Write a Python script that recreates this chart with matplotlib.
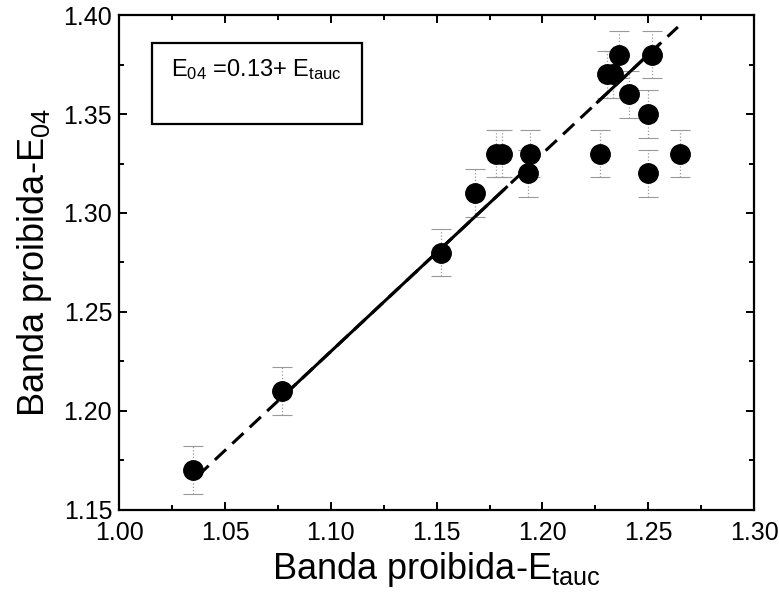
import numpy as np
import matplotlib
matplotlib.use("Agg")
import matplotlib.pyplot as plt
from matplotlib.ticker import MultipleLocator, FormatStrFormatter

plt.rcParams['font.family'] = ['Liberation Sans', 'DejaVu Sans']
plt.rcParams['mathtext.fontset'] = 'custom'
plt.rcParams['mathtext.rm'] = 'Liberation Sans'
plt.rcParams['mathtext.it'] = 'Liberation Sans'

# data
e_tauc = [1.035, 1.077, 1.152, 1.168, 1.178, 1.181, 1.194, 1.193, 1.227,
          1.2305, 1.2335, 1.236, 1.241, 1.250, 1.250, 1.252, 1.265]
e_04 = [1.17, 1.21, 1.28, 1.31, 1.33, 1.33, 1.33, 1.32, 1.33,
        1.37, 1.37, 1.38, 1.36, 1.35, 1.32, 1.38, 1.33]
err = 0.012

# fit E04 = 0.13 + Etauc
intercept = 0.13
slope = 1.0
fit_range = [1.037, 1.264]
solid_parts = [[1.081, 1.183], [1.226, 1.255]]

fig = plt.figure(figsize=(7.79, 6.04), dpi=100)
ax = fig.add_axes([0.153, 0.156, 0.815, 0.819])

ax.errorbar(e_tauc, e_04, yerr=err, fmt='none', ecolor='#999999',
            elinewidth=0.9, capsize=7, capthick=0.8, zorder=2)
for bar in ax.collections:
    bar.set_linestyle(':')
ax.plot(e_tauc, e_04, 'o', color='black', markersize=14, zorder=3)

xf = np.array(fit_range)
ax.plot(xf, intercept + slope * xf, color='black', lw=2.2,
        dashes=(5, 2.8), zorder=4)
for a, b in solid_parts:
    xs = np.array([a, b])
    ax.plot(xs, intercept + slope * xs, color='black', lw=2.2, zorder=4)

ax.set_xlim(1.00, 1.30)
ax.set_ylim(1.15, 1.40)
ax.xaxis.set_major_locator(MultipleLocator(0.05))
ax.xaxis.set_minor_locator(MultipleLocator(0.025))
ax.yaxis.set_major_locator(MultipleLocator(0.05))
ax.yaxis.set_minor_locator(MultipleLocator(0.025))
ax.xaxis.set_major_formatter(FormatStrFormatter('%.2f'))
ax.yaxis.set_major_formatter(FormatStrFormatter('%.2f'))
ax.tick_params(which='both', direction='in', top=True, right=True,
               width=1.4, labelsize=18)
ax.tick_params(which='major', length=6)
ax.tick_params(which='minor', length=3.5)
ax.tick_params(axis='x', pad=8)
ax.tick_params(axis='y', pad=5)
for s in ax.spines.values():
    s.set_linewidth(1.6)

ax.set_xlabel('Banda proibida-E$_{\\rm tauc}$', fontsize=26, labelpad=4)
ax.set_ylabel('Banda proibida-E$_{\\rm 04}$', fontsize=26, labelpad=7)

ax.text(0.082, 0.889, 'E$_{\\rm 04}$ =0.13+ E$_{\\rm tauc}$', transform=ax.transAxes,
        fontsize=17, va='center', ha='left')
box = plt.Rectangle((0.052, 0.780), 0.331, 0.164, transform=ax.transAxes,
                    fill=False, lw=1.6, ec='black')
ax.add_patch(box)

fig.savefig('out.png', dpi=100)
